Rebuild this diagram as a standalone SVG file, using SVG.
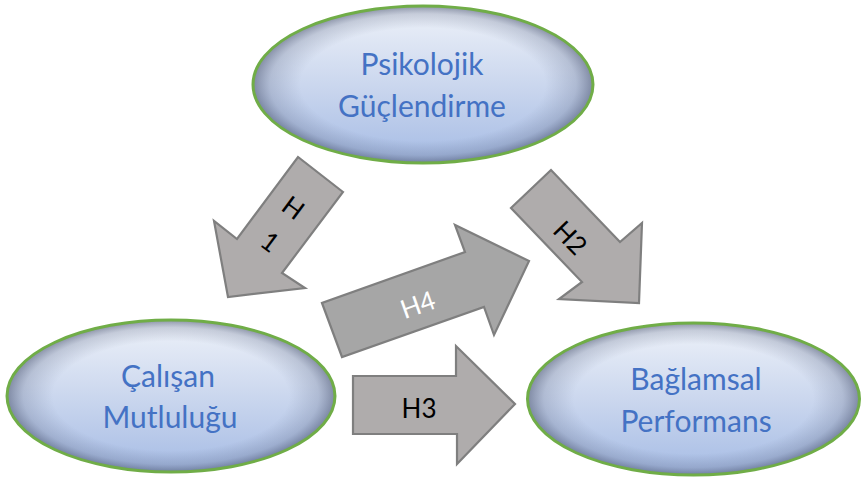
<svg xmlns="http://www.w3.org/2000/svg" width="861" height="477" viewBox="0 0 861 477">
<defs>
<linearGradient id="fillG" x1="0" y1="0" x2="0" y2="1">
<stop offset="0" stop-color="#eef2f9"/>
<stop offset="0.5" stop-color="#cbd7ee"/>
<stop offset="1" stop-color="#a6bce5"/>
</linearGradient>
<radialGradient id="shadeG" cx="0.5" cy="0.5" r="0.5">
<stop offset="0.72" stop-color="#5a6582" stop-opacity="0"/>
<stop offset="0.9" stop-color="#5a6582" stop-opacity="0.25"/>
<stop offset="1" stop-color="#4a5470" stop-opacity="0.6"/>
</radialGradient>
<style>
.ell{fill:url(#fillG);}
.shade{fill:url(#shadeG);}
.rim{fill:none;stroke:#70AD47;stroke-width:3;}
.lbl{font-family:Lato,"Open Sans",sans-serif;font-size:30px;fill:#4472C4;text-anchor:middle;}
.arr{fill:#AFACAC;stroke:#7F7F7F;stroke-width:2.2;stroke-linejoin:miter;}
.arr4{fill:#A6A6A6;stroke:#7F7F7F;stroke-width:2.2;}
.al{font-family:Lato,"Open Sans",sans-serif;font-size:26px;fill:#000;text-anchor:middle;}
.alw{font-family:Lato,"Open Sans",sans-serif;font-size:26px;fill:#ffffff;text-anchor:middle;}
</style>
</defs>
<g id="connectors">
<g id="H1">
<polygon class="arr" points="343,192 298,157 237,239 214,221 228,297 305,288 282,273"/>
<text class="al" transform="translate(293,208) rotate(36.6)" y="9">H</text>
<text class="al" transform="translate(270,242) rotate(36.6)" y="9">1</text>
</g>
<g id="H2">
<polygon class="arr" points="551,170 511,208 582,282 559,299 639,303 642,223 620,242"/>
<text class="al" transform="translate(570,238) rotate(46)" y="9">H2</text>
</g>
<g id="H4">
<polygon class="arr4" points="322,303 342,357 484,307 494,335 529,261 455,225 465,252"/>
<text class="alw" transform="translate(418,305) rotate(-19.5)" y="9">H4</text>
</g>
<g id="H3">
<polygon class="arr" points="353,376 456,376 456,346 515,404 457,464 457,434 353,434"/>
<text class="al" x="419" y="418">H3</text>
</g>
</g>
<g id="psikolojik">
<ellipse class="ell" cx="423" cy="84.5" rx="170" ry="78.5"/>
<ellipse class="shade" cx="423" cy="84.5" rx="170" ry="78.5"/>
<ellipse class="rim" cx="423" cy="84.5" rx="170" ry="78.5"/>
<text class="lbl" x="422" y="75">Psikolojik</text>
<text class="lbl" x="422" y="117">Güçlendirme</text>
</g>
<g id="calisan">
<ellipse class="ell" cx="171" cy="396" rx="164" ry="76"/>
<ellipse class="shade" cx="171" cy="396" rx="164" ry="76"/>
<ellipse class="rim" cx="171" cy="396" rx="164" ry="76"/>
<text class="lbl" x="168" y="387">Çalışan</text>
<text class="lbl" x="170" y="428">Mutluluğu</text>
</g>
<g id="baglamsal">
<ellipse class="ell" cx="693.5" cy="399" rx="166" ry="76"/>
<ellipse class="shade" cx="693.5" cy="399" rx="166" ry="76"/>
<ellipse class="rim" cx="693.5" cy="399" rx="166" ry="76"/>
<text class="lbl" x="696" y="390">Bağlamsal</text>
<text class="lbl" x="696" y="432">Performans</text>
</g>
</svg>
